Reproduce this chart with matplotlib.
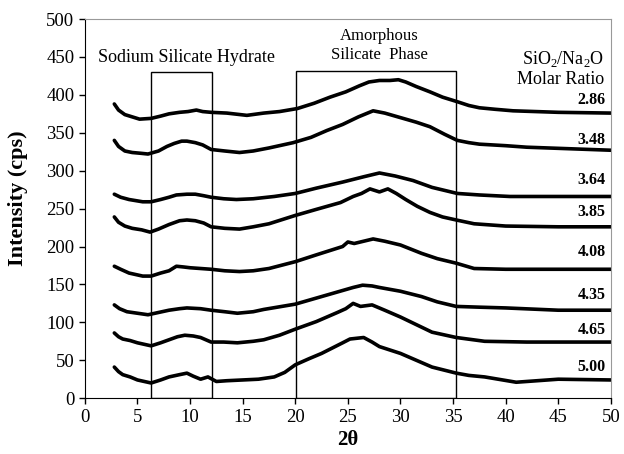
import matplotlib.pyplot as plt
from matplotlib.patches import Rectangle

plt.rcParams['font.family'] = ['Liberation Serif', 'DejaVu Serif']
plt.rcParams['mathtext.fontset'] = 'custom'
plt.rcParams['mathtext.rm'] = 'Liberation Serif'

# SiO2/Na2O molar ratio labels, top curve first
ratios = ['2.86', '3.48', '3.64', '3.85', '4.08', '4.35', '4.65', '5.00']

# 2theta / intensity pairs
x_286 = [2.8, 3.2, 3.8, 4.5, 5.2, 6.3, 7.2, 8.0, 9.0, 9.8, 10.6, 11.2, 12.0, 13.5, 15.4, 17.0, 18.5, 20.2, 21.8, 23.3, 24.8, 26.1, 27.0, 28.0, 29.0, 29.8, 30.5, 31.5, 32.8, 34.0, 35.4, 36.5, 37.5, 39.0, 40.7, 45.0, 50.0]
y_286 = [388, 380, 374, 371, 368, 369, 372, 375, 377, 378, 380, 378, 377, 376, 373, 376, 378, 382, 389, 397, 404, 412, 417, 419, 419, 420, 417, 411, 404, 397, 391, 386, 383, 381, 379, 377, 376]

x_348 = [2.8, 3.2, 3.8, 4.5, 5.3, 6.0, 7.0, 7.8, 8.5, 9.2, 9.7, 10.5, 11.2, 12.0, 13.3, 14.7, 16.0, 17.5, 19.8, 21.5, 23.0, 24.5, 26.0, 27.4, 28.5, 30.0, 31.5, 32.8, 34.2, 35.4, 36.5, 37.5, 40.0, 42.0, 46.0, 50.0]
y_348 = [340, 332, 326, 324, 323, 322, 326, 332, 336, 339, 339, 337, 334, 328, 326, 324, 326, 330, 337, 344, 353, 361, 371, 379, 376, 370, 364, 358, 348, 340, 337, 335, 333, 331, 329, 327]

x_364 = [2.8, 3.4, 4.2, 5.5, 6.3, 7.2, 8.0, 8.7, 9.7, 10.5, 11.3, 12.0, 13.2, 14.4, 16.0, 18.0, 20.0, 22.0, 24.5, 26.5, 28.0, 29.5, 31.2, 33.0, 35.4, 37.5, 40.4, 45.0, 50.0]
y_364 = [269, 265, 262, 259, 259, 262, 265, 268, 269, 269, 267, 265, 263, 262, 263, 266, 270, 277, 285, 292, 297, 293, 287, 278, 270, 268, 266, 266, 266]

x_385 = [2.8, 3.2, 3.8, 4.5, 5.4, 6.2, 7.0, 8.0, 9.0, 9.7, 10.5, 11.3, 12.0, 13.3, 14.7, 16.0, 17.5, 20.0, 22.0, 24.3, 25.5, 26.3, 27.1, 28.0, 28.8, 29.6, 30.5, 31.6, 32.8, 34.0, 35.3, 37.0, 40.0, 45.0, 50.0]
y_385 = [239, 232, 227, 224, 222, 219, 223, 229, 234, 235, 234, 231, 226, 224, 223, 226, 230, 241, 249, 258, 266, 270, 276, 272, 276, 270, 262, 253, 245, 239, 235, 230, 227, 226, 226]

x_408 = [2.8, 3.4, 4.2, 5.5, 6.3, 7.2, 8.0, 8.7, 9.4, 10.0, 11.0, 12.0, 13.3, 14.7, 16.0, 17.5, 20.0, 22.0, 24.5, 25.0, 25.6, 26.5, 27.4, 28.5, 30.0, 32.0, 33.5, 35.3, 37.0, 40.0, 45.0, 50.0]
y_408 = [174, 170, 165, 161, 161, 165, 168, 174, 173, 172, 171, 170, 168, 167, 168, 171, 180, 189, 200, 206, 204, 207, 210, 207, 202, 191, 184, 178, 171, 170, 170, 170]

x_435 = [2.8, 3.3, 4.0, 5.0, 6.0, 7.0, 8.0, 9.0, 9.7, 11.0, 12.0, 13.3, 14.5, 16.0, 17.0, 20.0, 22.0, 24.5, 25.5, 26.4, 27.3, 28.0, 30.0, 32.0, 33.5, 35.3, 37.5, 40.0, 45.0, 50.0]
y_435 = [123, 118, 114, 112, 110, 113, 116, 118, 119, 118, 116, 114, 112, 114, 117, 124, 132, 142, 146, 149, 148, 146, 141, 134, 127, 121, 120, 119, 116, 116]

x_465 = [2.8, 3.2, 3.6, 4.3, 5.0, 6.3, 7.2, 8.0, 8.8, 9.5, 10.3, 11.0, 12.0, 13.2, 14.5, 16.0, 17.0, 18.5, 20.0, 22.0, 24.0, 24.8, 25.5, 26.2, 27.3, 28.5, 30.0, 31.5, 33.0, 35.3, 38.0, 42.0, 50.0]
y_465 = [86, 81, 78, 76, 73, 69, 73, 77, 81, 83, 82, 80, 74, 74, 73, 75, 77, 83, 91, 101, 113, 118, 125, 121, 123, 116, 107, 97, 87, 80, 75, 74, 74]

x_500 = [2.8, 3.2, 3.6, 4.3, 5.0, 6.3, 7.2, 8.0, 9.0, 9.7, 10.3, 11.0, 11.7, 12.5, 13.5, 15.0, 16.5, 18.0, 19.0, 20.0, 21.3, 22.5, 23.5, 24.5, 25.2, 26.5, 27.3, 28.0, 30.0, 31.5, 33.0, 35.3, 36.5, 38.0, 41.0, 45.0, 50.0]
y_500 = [41, 35, 31, 28, 24, 20, 24, 28, 31, 33, 29, 25, 28, 22, 23, 24, 25, 28, 34, 44, 52, 59, 66, 73, 78, 80, 74, 68, 59, 50, 41, 33, 30, 28, 21, 25, 24]

xs = [x_286, x_348, x_364, x_385, x_408, x_435, x_465, x_500]
ys = [y_286, y_348, y_364, y_385, y_408, y_435, y_465, y_500]
label_y = [393, 340, 288, 245, 193, 136, 90, 41]

fig = plt.figure(figsize=(6.24, 4.54), dpi=100)
ax = fig.add_axes([0.136, 0.123, 0.843, 0.835])

for x, y in zip(xs, ys):
    ax.plot(x, y, color='black', lw=2.6, solid_joinstyle='round', solid_capstyle='round')

for r, ly in zip(ratios, label_y):
    ax.text(49.5, ly, r, ha='right', va='center', fontsize=11.5, fontweight='bold')

# phase boxes
ax.add_patch(Rectangle((6.3, 0), 5.8, 430, fill=False, ec='black', lw=1))
ax.add_patch(Rectangle((20.1, 0), 15.2, 432, fill=False, ec='black', lw=1))

ax.text(9.7, 449, 'Sodium Silicate Hydrate', ha='center', va='center', fontsize=13)
ax.text(28.0, 465, 'Amorphous\nSilicate  Phase', ha='center', va='center', fontsize=12, linespacing=1.3)
ax.text(49.4, 435, 'SiO$_2$/Na$_2$O\nMolar Ratio', ha='right', va='center', fontsize=13, linespacing=1.15)

ax.set_xlim(0, 50)
ax.set_ylim(0, 500)
ax.set_xticks(range(0, 51, 5))
ax.set_yticks(range(0, 501, 50))
ax.tick_params(direction='out', labelsize=13.5, length=4.5, width=1, pad=3, top=False, right=False)
for s in ['top', 'right']:
    ax.spines[s].set_color('#999999')

ax.set_xlabel('2θ', fontsize=15, fontweight='bold', labelpad=3)
ax.set_ylabel('Intensity (cps)', fontsize=16, fontweight='bold')
ax.yaxis.set_label_coords(-0.108, 0.528)

fig.savefig('out.png', dpi=100)
